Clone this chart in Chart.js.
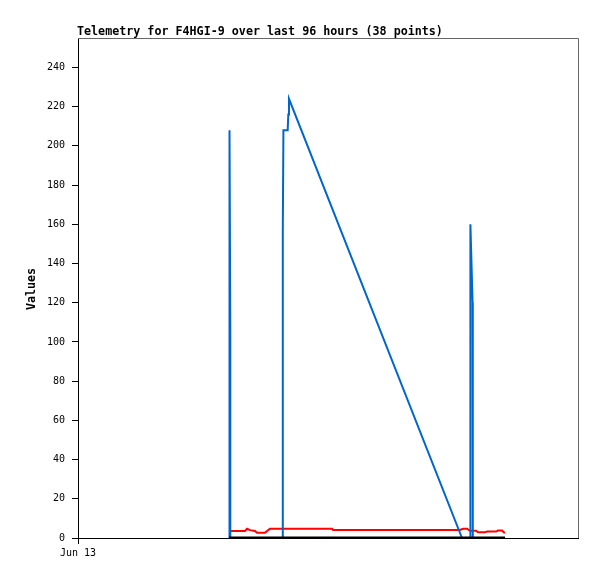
<!DOCTYPE html>
<html lang="en">
<head>
  <meta charset="UTF-8">
  <title>Telemetry for F4HGI-9</title>
  <script src="https://cdn.jsdelivr.net/npm/chart.js@4"></script>
  <style>
    html, body { margin: 0; padding: 0; background: #fff; }
    #wrap { width: 597px; height: 579px; position: relative; }
  </style>
</head>
<body>
  <div id="wrap"><canvas id="telemetry"></canvas></div>

  <script>
    const chartTitle = "Telemetry for F4HGI-9 over last 96 hours (38 points)";
    const yLabel = "Values";
    const xTickLabels = ["Jun 13"];
    const yTicks = [0, 20, 40, 60, 80, 100, 120, 140, 160, 180, 200, 220, 240];

    // hours since Jun 13 00:00
    const blueHours  = [29.09, 29.09, 29.24, 29.24, 39.3, 39.3, 39.34, 39.44, 40.26, 40.38, 40.51, 73.73, 75.32, 75.32, 75.36, 75.76, 75.8, 75.8, 81.98];
    const blueValues = [0, 208, 104, 0, 0, 52, 156, 208, 208, 216, 224, 0, 0, 80, 160, 120, 40, 0, 0];

    const redHours  = [28.99, 32.06, 32.45, 33.02, 33.98, 34.37, 35.9, 36.29, 36.86, 48.77, 48.96, 73.34, 73.92, 74.69, 75.26, 76.42, 76.8, 78.14, 78.53, 80.26, 80.64, 81.41, 81.79, 81.98];
    const redValues = [3.6, 3.6, 4.7, 4.0, 3.6, 2.7, 2.7, 3.6, 4.7, 4.7, 4.1, 4.1, 4.7, 4.7, 3.7, 3.7, 2.9, 2.9, 3.3, 3.3, 3.8, 3.8, 2.8, 2.8];

    const blackHours  = [28.99, 81.98];
    const blackValues = [0, 0];

    const toPoints = (xs, ys) => xs.map((x, i) => ({ x: x, y: ys[i] }));

    const decor = {
      id: 'decor',
      afterDraw(chart) {
        const ctx = chart.ctx;
        const a = chart.chartArea;
        ctx.save();
        // grey frame on top and right
        ctx.strokeStyle = '#666';
        ctx.lineWidth = 1;
        ctx.beginPath();
        ctx.moveTo(a.left, a.top + 0.5);
        ctx.lineTo(a.right + 0.5, a.top + 0.5);
        ctx.lineTo(a.right + 0.5, a.bottom);
        ctx.stroke();

        ctx.fillStyle = '#000';
        ctx.font = 'bold 11.7px "DejaVu Sans Mono"';
        ctx.textBaseline = 'middle';
        ctx.textAlign = 'left';
        ctx.fillText(chartTitle, 77, 31.5);

        ctx.translate(32, 289);
        ctx.rotate(-Math.PI / 2);
        ctx.textAlign = 'center';
        ctx.fillText(yLabel, 0, 0);
        ctx.restore();
      }
    };

    new Chart(document.getElementById('telemetry'), {
      type: 'line',
      data: {
        datasets: [
          {
            data: toPoints(blackHours, blackValues),
            borderColor: '#000',
            borderWidth: 3,
            order: 0
          },
          {
            data: toPoints(blueHours, blueValues),
            borderColor: '#0066cc',
            borderWidth: 2,
            order: 1
          },
          {
            data: toPoints(redHours, redValues),
            borderColor: '#ff0000',
            borderWidth: 2,
            order: 2
          }
        ]
      },
      options: {
        responsive: true,
        maintainAspectRatio: false,
        animation: false,
        layout: { padding: { top: 38, right: 19, left: 0, bottom: 0 } },
        elements: {
          point: { radius: 0 },
          line: { tension: 0, borderCapStyle: 'butt', borderJoinStyle: 'miter' }
        },
        plugins: {
          legend: { display: false },
          tooltip: { enabled: false }
        },
        scales: {
          x: {
            type: 'linear',
            min: 0,
            max: 96,
            afterBuildTicks: s => { s.ticks = [{ value: 0 }]; },
            afterFit: s => { s.height = 41; },
            ticks: {
              callback: (v, i) => xTickLabels[i],
              maxRotation: 0,
              color: '#000',
              font: { family: 'DejaVu Sans Mono', size: 10 },
              padding: 3
            },
            grid: { drawOnChartArea: false, tickLength: 6, color: '#000' },
            border: { color: '#000', width: 1 }
          },
          y: {
            min: 0,
            max: 255,
            afterBuildTicks: s => { s.ticks = yTicks.map(v => ({ value: v })); },
            afterFit: s => { s.width = 78; },
            ticks: {
              color: '#000',
              font: { family: 'DejaVu Sans Mono', size: 10 },
              padding: 7
            },
            grid: { drawOnChartArea: false, tickLength: 6, color: '#000' },
            border: { color: '#000', width: 1 }
          }
        }
      },
      plugins: [decor]
    });
  </script>
</body>
</html>
